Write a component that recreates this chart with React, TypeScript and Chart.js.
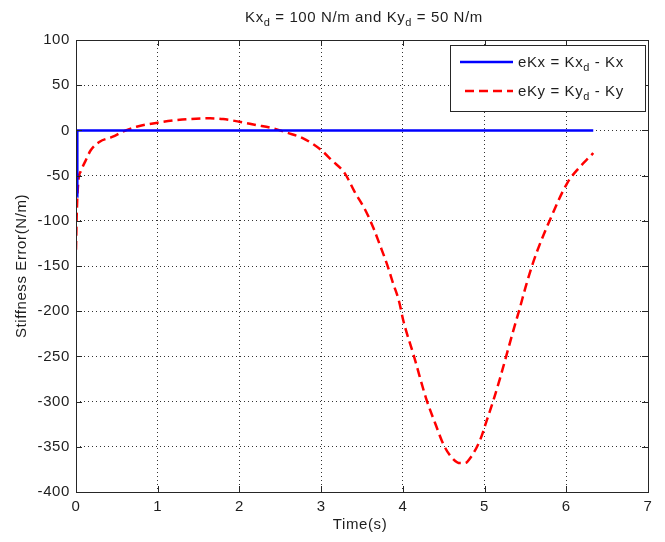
import React, { useEffect, useRef } from 'react';
import { Chart, registerables } from 'chart.js';

Chart.register(...registerables);

// ---- data ----
const timeKy = [0, 0.01, 0.03, 0.06, 0.12, 0.18, 0.29, 0.45, 0.57, 0.74, 1.03, 1.3, 1.64, 1.8, 2.0, 2.2, 2.41, 2.6, 2.78, 2.9, 3.0, 3.13, 3.29, 3.41, 3.54, 3.64, 3.72, 3.81, 3.88, 3.95, 4.01, 4.13, 4.29, 4.4, 4.5, 4.6, 4.7, 4.76, 4.82, 4.945, 5.03, 5.11, 5.19, 5.27, 5.35, 5.43, 5.5, 5.58, 5.65, 5.8, 6.01, 6.15, 6.31, 6.33];
const eKy = [-132, -90, -55, -45, -33, -22, -12.5, -7, -1.5, 4, 9, 12, 13.4, 12.5, 9.6, 6, 2.3, -3, -8.8, -15, -21.7, -33, -47.5, -68, -88, -108, -127, -149, -169, -188, -212, -248, -298, -325, -348, -362, -368, -368, -363, -342.5, -320, -298, -274, -248, -222, -197, -174, -150, -132, -99, -58.5, -42, -27, -25];
const timeKx = [0.015, 0.016, 6.33];
const eKx = [-73, 0, 0];
const xTickValues = [0, 1, 2, 3, 4, 5, 6, 7];
const yTickValues = [100, 50, 0, -50, -100, -150, -200, -250, -300, -350, -400];

const titleParts = [
  { t: 'Kx' }, { t: 'd', sub: true }, { t: ' = 100 N/m and Ky' }, { t: 'd', sub: true }, { t: ' = 50 N/m' },
];
const legendKx = [{ t: 'eKx = Kx' }, { t: 'd', sub: true }, { t: ' - Kx' }];
const legendKy = [{ t: 'eKy = Ky' }, { t: 'd', sub: true }, { t: ' - Ky' }];
const xTitle = 'Time(s)';
const yTitle = 'Stiffness Error(N/m)';

const FONT = '"Liberation Sans", Arial, Helvetica, sans-serif';
const TEXT = '#1e1e1e';
const FS = 15;
const SPACING = '0.6px';

type Part = { t: string; sub?: boolean };

function richWidth(ctx: CanvasRenderingContext2D, parts: Part[]) {
  let w = 0;
  for (const p of parts) {
    ctx.font = `${p.sub ? 11 : FS}px ${FONT}`;
    w += ctx.measureText(p.t).width;
  }
  return w;
}

function drawRich(ctx: CanvasRenderingContext2D, parts: Part[], x: number, y: number, align: 'left' | 'center') {
  ctx.save();
  ctx.textBaseline = 'alphabetic';
  ctx.textAlign = 'left';
  ctx.fillStyle = TEXT;
  let cx = align === 'center' ? x - richWidth(ctx, parts) / 2 : x;
  for (const p of parts) {
    ctx.font = `${p.sub ? 11 : FS}px ${FONT}`;
    ctx.fillText(p.t, cx, p.sub ? y + 4 : y);
    cx += ctx.measureText(p.t).width;
  }
  ctx.restore();
}

const matlabPlugin = {
  id: 'matlabDecor',
  beforeDraw(chart: any) {
    const ctx = chart.ctx as any;
    ctx.letterSpacing = SPACING;
    ctx.save();
    ctx.fillStyle = '#ffffff';
    ctx.fillRect(0, 0, chart.width, chart.height);
    ctx.restore();
  },
  afterDatasetsDraw(chart: any) {
    const ctx = chart.ctx as CanvasRenderingContext2D;
    const a = chart.chartArea;
    const xs = chart.scales.x;
    const ys = chart.scales.y;
    ctx.save();
    ctx.strokeStyle = '#262626';
    ctx.lineWidth = 1;
    ctx.beginPath();
    for (const v of xTickValues) {
      const px = Math.round(xs.getPixelForValue(v)) + 0.5;
      ctx.moveTo(px, a.bottom);
      ctx.lineTo(px, a.bottom - 6);
      ctx.moveTo(px, a.top);
      ctx.lineTo(px, a.top + 6);
    }
    for (const v of yTickValues) {
      const py = Math.round(ys.getPixelForValue(v)) + 0.5;
      ctx.moveTo(a.left, py);
      ctx.lineTo(a.left + 6, py);
      ctx.moveTo(a.right, py);
      ctx.lineTo(a.right - 6, py);
    }
    ctx.stroke();
    ctx.strokeRect(Math.round(a.left) + 0.5, Math.round(a.top) + 0.5, Math.round(a.width), Math.round(a.height));
    ctx.restore();
  },
  afterDraw(chart: any) {
    const ctx = chart.ctx as CanvasRenderingContext2D;
    const a = chart.chartArea;
    const cx = (a.left + a.right) / 2;
    // title
    drawRich(ctx, titleParts, cx + 2, 22, 'center');
    // x title
    ctx.save();
    ctx.fillStyle = TEXT;
    ctx.font = `${FS}px ${FONT}`;
    ctx.textAlign = 'center';
    ctx.textBaseline = 'alphabetic';
    ctx.fillText(xTitle, cx - 2, 529);
    // y title
    ctx.translate(22, (a.top + a.bottom) / 2);
    ctx.rotate(-Math.PI / 2);
    ctx.textBaseline = 'middle';
    ctx.fillText(yTitle, 0, 0);
    ctx.restore();
    // legend
    const lx = 450, ly = 45, lw = 195, lh = 66;
    ctx.save();
    ctx.fillStyle = '#ffffff';
    ctx.fillRect(lx, ly, lw, lh);
    ctx.strokeStyle = '#262626';
    ctx.lineWidth = 1;
    ctx.strokeRect(lx + 0.5, ly + 0.5, lw, lh);
    ctx.lineWidth = 2.5;
    ctx.strokeStyle = '#0000ff';
    ctx.beginPath();
    ctx.moveTo(460, 62);
    ctx.lineTo(513, 62);
    ctx.stroke();
    ctx.strokeStyle = '#ff0000';
    ctx.setLineDash([9, 5]);
    ctx.beginPath();
    ctx.moveTo(465, 91);
    ctx.lineTo(513, 91);
    ctx.stroke();
    ctx.restore();
    drawRich(ctx, legendKx, 518, 67, 'left');
    drawRich(ctx, legendKy, 518, 96, 'left');
  },
};

export default function App() {
  const ref = useRef<HTMLCanvasElement | null>(null);
  useEffect(() => {
    if (!ref.current) return;
    const chart = new Chart(ref.current, {
      type: 'line',
      data: {
        datasets: [
          {
            label: 'eKx',
            data: timeKx.map((t, i) => ({ x: t, y: eKx[i] })),
            borderColor: '#0000ff',
            borderWidth: 2.5,
            pointRadius: 0,
            fill: false,
            tension: 0,
          },
          {
            label: 'eKy',
            data: timeKy.map((t, i) => ({ x: t, y: eKy[i] })),
            borderColor: '#ff0000',
            borderWidth: 2.5,
            borderDash: [9, 5],
            pointRadius: 0,
            fill: false,
            cubicInterpolationMode: 'monotone',
          },
        ],
      },
      options: {
        responsive: false,
        animation: false,
        events: [],
        layout: { padding: { left: 0, top: 40, right: 17, bottom: 0 } },
        plugins: { legend: { display: false }, title: { display: false }, tooltip: { enabled: false } },
        scales: {
          x: {
            type: 'linear',
            min: 0,
            max: 7,
            afterFit: (s: any) => { s.height = 50; },
            afterBuildTicks: (s: any) => { s.ticks = xTickValues.map((v) => ({ value: v })); },
            ticks: { color: TEXT, font: { family: FONT, size: FS }, padding: 6, maxRotation: 0, autoSkip: false },
            grid: { color: '#333333', lineWidth: 1, drawTicks: false },
            border: { display: false, dash: [1, 3] },
          },
          y: {
            type: 'linear',
            min: -400,
            max: 100,
            afterFit: (s: any) => { s.width = 76; },
            afterBuildTicks: (s: any) => { s.ticks = yTickValues.map((v) => ({ value: v })); },
            ticks: { color: TEXT, font: { family: FONT, size: FS }, padding: 6, autoSkip: false },
            grid: { color: '#333333', lineWidth: 1, drawTicks: false },
            border: { display: false, dash: [1, 3] },
          },
        },
      },
      plugins: [matlabPlugin],
    } as any);
    return () => chart.destroy();
  }, []);
  return (
    <div style={{ position: 'absolute', left: 0, top: 0, width: 665, height: 542 }}>
      <canvas ref={ref} width={665} height={542} style={{ display: 'block' }} />
    </div>
  );
}
